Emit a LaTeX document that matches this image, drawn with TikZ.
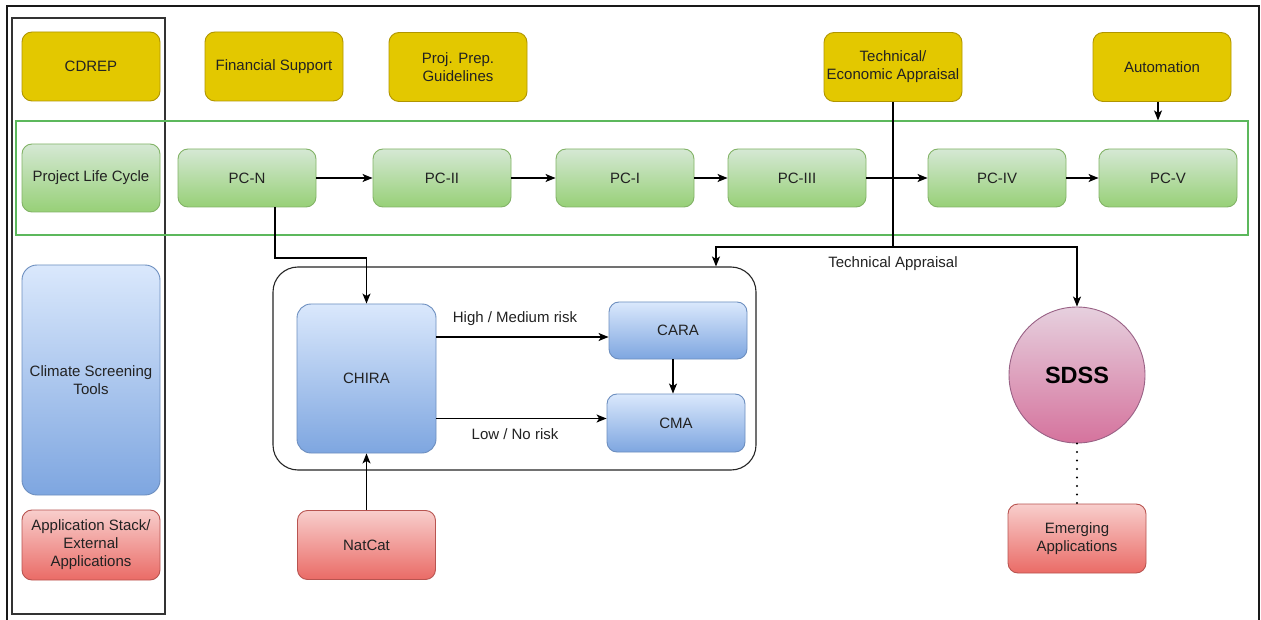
\documentclass[tikz,border=0pt]{standalone}
\usepackage{fontspec}
\setmainfont{Liberation Sans}
\usetikzlibrary{arrows.meta}

\definecolor{ylwfill}{HTML}{E3C800}
\definecolor{ylwdraw}{HTML}{B09500}
\definecolor{grtop}{HTML}{D5E8D4}
\definecolor{grbot}{HTML}{97D077}
\definecolor{grdraw}{HTML}{82B366}
\definecolor{bltop}{HTML}{DAE8FC}
\definecolor{blbot}{HTML}{7EA6E0}
\definecolor{bldraw}{HTML}{6C8EBF}
\definecolor{rdtop}{HTML}{F8CECC}
\definecolor{rdbot}{HTML}{EA6B66}
\definecolor{rddraw}{HTML}{B85450}
\definecolor{pktop}{HTML}{E6D0DE}
\definecolor{pkbot}{HTML}{D5739D}
\definecolor{pkdraw}{HTML}{996185}
\definecolor{lcgreen}{HTML}{5CB85C}
\definecolor{txt}{HTML}{222222}

\tikzset{
  base/.style={rounded corners=10pt, align=center, inner sep=2pt,
    font=\fontsize{15}{18}\selectfont, text=txt, line width=0.9pt,
    minimum width=138pt},
  ybox/.style={base, fill=ylwfill, draw=ylwdraw, minimum height=69pt},
  gbox/.style={base, draw=grdraw, top color=grtop, bottom color=grbot, minimum height=58pt},
  bbox/.style={base, draw=bldraw, top color=bltop, bottom color=blbot, minimum height=58pt},
  rbox/.style={base, draw=rddraw, top color=rdtop, bottom color=rdbot, minimum height=69pt},
  lbl/.style={font=\fontsize{15}{18}\selectfont, text=txt, inner sep=1pt},
  wire/.style={line width=1.1pt, draw=black},
  conn/.style={wire, -{Stealth[length=10pt,width=8pt,inset=2.5pt]}},
  dotline/.style={line width=2.2pt, line cap=round, dash pattern=on 0pt off 8.5pt}
}

\begin{document}
\begin{tikzpicture}[x=1pt,y=-1pt]
\useasboundingbox (0,0) rectangle (1261,620);
\fill[white] (0,0) rectangle (1261,620);

% page frame (open at the bottom)
\coordinate (fbl) at (7,620);
\coordinate (ftl) at (7,6);
\coordinate (ftr) at (1259,6);
\coordinate (fbr) at (1259,620);
\draw[line width=1.6pt, draw=black!90] (fbl) -- (ftl) -- (ftr) -- (fbr);

% left legend column
\node[draw=black!80, line width=1.1pt, minimum width=153pt, minimum height=596pt, inner sep=0pt] (lcol) at (88.5,316) {};

% top row of drivers
\node[ybox] (cdrep) at (91,66.5) {CDREP};
\node[ybox] (fin)   at (274,66.5) {Financial Support};
\node[ybox] (prep)  at (458,67) {Proj. Prep.\\Guidelines};
\node[ybox] (tea)   at (893,67) {Technical/\\Economic Appraisal};
\node[ybox] (auto)  at (1162,67) {Automation};

% project life cycle band
\node[draw=lcgreen, line width=1.1pt, minimum width=1232pt, minimum height=114pt, inner sep=0pt] (lc) at (632,178) {};
\node[gbox, minimum height=68pt] (plc) at (91,178) {Project Life Cycle};
\node[gbox] (pcn) at (247,178) {PC-N};
\node[gbox] (pc2) at (442,178) {PC-II};
\node[gbox] (pc1) at (625,178) {PC-I};
\node[gbox] (pc3) at (797,178) {PC-III};
\node[gbox] (pc4) at (997,178) {PC-IV};
\node[gbox] (pc5) at (1168,178) {PC-V};

\draw[conn] (pcn) -- (pc2);
\draw[conn] (pc2) -- (pc1);
\draw[conn] (pc1) -- (pc3);
\draw[conn] (pc3) -- (pc4);
\draw[conn] (pc4) -- (pc5);
\draw[conn] ([xshift=-4pt]auto.south) -- ([xshift=-4pt]auto.south |- lc.north);

% climate screening tools block
\node[draw=black!85, line width=1.1pt, rounded corners=25pt, minimum width=483pt, minimum height=203pt, inner sep=0pt] (risk) at (514.5,368.5) {};
\node[bbox, minimum width=139pt, minimum height=149pt, rounded corners=14pt] (chira) at (366.5,378.5) {CHIRA};
\node[bbox, minimum height=57pt] (cara) at (678,330.5) {CARA};
\node[bbox] (cma) at (676,423) {CMA};
\node[rbox] (natcat) at (366.5,545) {NatCat};

\coordinate (hm) at ([yshift=-6.5pt]cara.west);
\coordinate (lo) at ([yshift=4.5pt]cma.west);
\draw[conn] (chira.east |- hm) -- (hm);
\draw[conn] (chira.east |- lo) -- (lo);
\draw[conn] ([xshift=-5pt]cara.south) -- ([xshift=-5pt]cara.south |- cma.north);
\draw[conn] (natcat.north) -- (chira.south);
\node[lbl] (lhm) at (515,319) {High / Medium risk};
\node[lbl] (llo) at (515,434) {Low / No risk};

% PC-N feeds the screening
\coordinate (j1) at (366.5,258);
\draw[conn] ([xshift=28pt]pcn.south) |- (j1) -- (chira.north);

% technical appraisal branch
\coordinate (tj) at (893,247);
\draw[wire] (tea.south) -- (tj);
\draw[conn] (tj) -| ([xshift=201.5pt]risk.north);
\node[lbl] (ltech) at (893,264) {Technical Appraisal};

% decision support system
\node[circle, draw=pkdraw, line width=0.9pt, top color=pktop, bottom color=pkbot,
      minimum size=136pt, inner sep=0pt, text=black,
      font=\fontsize{23.5}{28}\selectfont\bfseries] (sdss) at (1077,375) {SDSS};
\draw[conn] (tj) -| (sdss.north);
\node[rbox] (emerg) at (1077,538.5) {Emerging\\Applications};
\draw[dotline] (sdss.south) -- (emerg.north);

% legend entries
\node[bbox, minimum height=230pt, rounded corners=15pt] (cst) at (91,380) {Climate Screening\\Tools};
\node[rbox, minimum height=70pt] (apps) at (91,545) {Application Stack/\\External\\Applications};
\end{tikzpicture}
\end{document}
